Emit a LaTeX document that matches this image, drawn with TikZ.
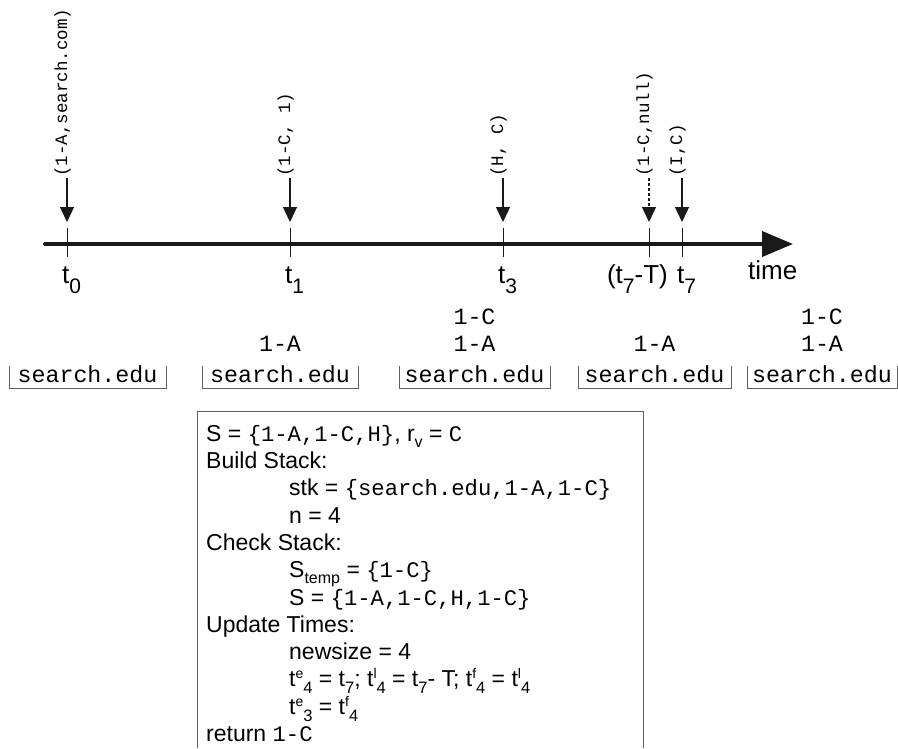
\documentclass[tikz,border=0pt]{standalone}
\usepackage{fontspec}
\setmainfont{Liberation Sans}
\setmonofont{Liberation Mono}
\usetikzlibrary{arrows.meta,calc,positioning}
\definecolor{FrameGray}{RGB}{95,95,95}
\definecolor{InkBlack}{RGB}{25,25,25}
\newcommand{\mono}[1]{{\fontsize{22.2}{27.3}\selectfont\ttfamily #1}}
\newcommand{\supx}[1]{\raisebox{8pt}{\fontsize{14}{14}\selectfont #1}}
\newcommand{\subx}[1]{\raisebox{-7pt}{\fontsize{16.5}{16.5}\selectfont #1}}
\newcommand{\subt}[1]{\raisebox{-6pt}{\fontsize{16}{16}\selectfont #1}}
\newcommand{\tsub}[1]{\raisebox{-10pt}{\fontsize{21}{21}\selectfont #1}}
\newcommand{\indnt}{\hspace*{83pt}}

\begin{document}
\begin{tikzpicture}[x=1pt,y=-1pt,
  axis/.style={InkBlack,line width=4pt,line cap=round,-{Triangle[length=31pt,width=25pt]}},
  tick/.style={InkBlack,line width=1pt},
  event/.style={InkBlack,line width=1.3pt,-{Triangle[length=15pt,width=14pt]}},
  evdash/.style={dash pattern=on 3pt off 2pt},
  evlab/.style={rotate=90,anchor=base west,inner sep=1pt,font=\fontsize{17.5}{17.5}\selectfont\ttfamily},
  tlab/.style={anchor=base west,inner sep=0pt,font=\fontsize{26}{26}\selectfont},
  stackbox/.style={FrameGray,line width=0.9pt},
  entry/.style={anchor=base,inner sep=0pt,font=\fontsize{23.3}{23.3}\selectfont\ttfamily}]
\useasboundingbox (0,0) rectangle (898,748);
\coordinate (axs) at (45,244);
\coordinate (axe) at (793,244);
\draw[axis] (axs) -- (axe);
\foreach \n/\x in {t0/67,t1/290,t3/503,tT/649,t7/682}{
  \coordinate (\n) at (\x,244);
  \draw[tick] ($(\n)+(0,-16)$) -- ($(\n)+(0,13)$);
}
\foreach \n/\x/\t/\s in {e0/67/{(1-A,search.com)}/solid,e1/290/{(1-C, 1)}/solid,e3/503/{(H, C)}/solid,eT/649/{(1-C,null)}/evdash,e7/682/{(I,C)}/solid}{
  \node[evlab] (\n) at (\x,178) {\t};
  \coordinate (\n tip) at (\x,222);
  \draw[event,\s] (\n.base west) -- (\n tip);
}
\node[tlab] (l0) at (62,283) {t\tsub{0}};
\node[tlab] (l1) at (285,283) {t\tsub{1}};
\node[tlab] (l3) at (498,283) {t\tsub{3}};
\node[tlab,anchor=base east] (lT) at (668,283) {(t\tsub{7}-T)};
\node[tlab] (l7) at (677,283) {t\tsub{7}};
\node[tlab] (ltime) at (748,279) {time};
\foreach \n/\l/\r in {s0/9/166,s1/202/358,s2/399/550,s3/578/731,s4/747/897}{
  \draw[stackbox] (\l,366) -- (\l,388) -- (\r,388) -- (\r,366);
  \node[entry] (\n) at ({(\l+\r)/2},382) {search.edu};
}
\foreach \n in {s1,s2,s3,s4}{
  \node[entry] (\n a) at ($(\n.base)+(0,-31)$) {1-A};
}
\foreach \n in {s2,s4}{
  \node[entry] (\n c) at ($(\n.base)+(0,-58)$) {1-C};
}
\draw[stackbox] (197,748) -- (197,411) -- (643,411) -- (643,748);
\node[anchor=north west,align=left,inner sep=0pt,font=\fontsize{23}{27.3}\selectfont] (algo) at (206,425) {%
S = \mono{\{1-A,1-C,H\}}, r\subt{v} = \mono{C}\\
Build Stack:\\
\indnt stk = \mono{\{search.edu,1-A,1-C\}}\\
\indnt n = 4\\
Check Stack:\\
\indnt S\subt{temp} = \mono{\{1-C\}}\\
\indnt S = \mono{\{1-A,1-C,H,1-C\}}\\
Update Times:\\
\indnt newsize = 4\\
\indnt t\supx{e}\subx{4} = t\subx{7}; t\supx{l}\subx{4} = t\subx{7}- T; t\supx{f}\subx{4} = t\supx{l}\subx{4}\\
\indnt t\supx{e}\subx{3} = t\supx{f}\subx{4}\\
return \mono{1-C}};
\end{tikzpicture}
\end{document}
